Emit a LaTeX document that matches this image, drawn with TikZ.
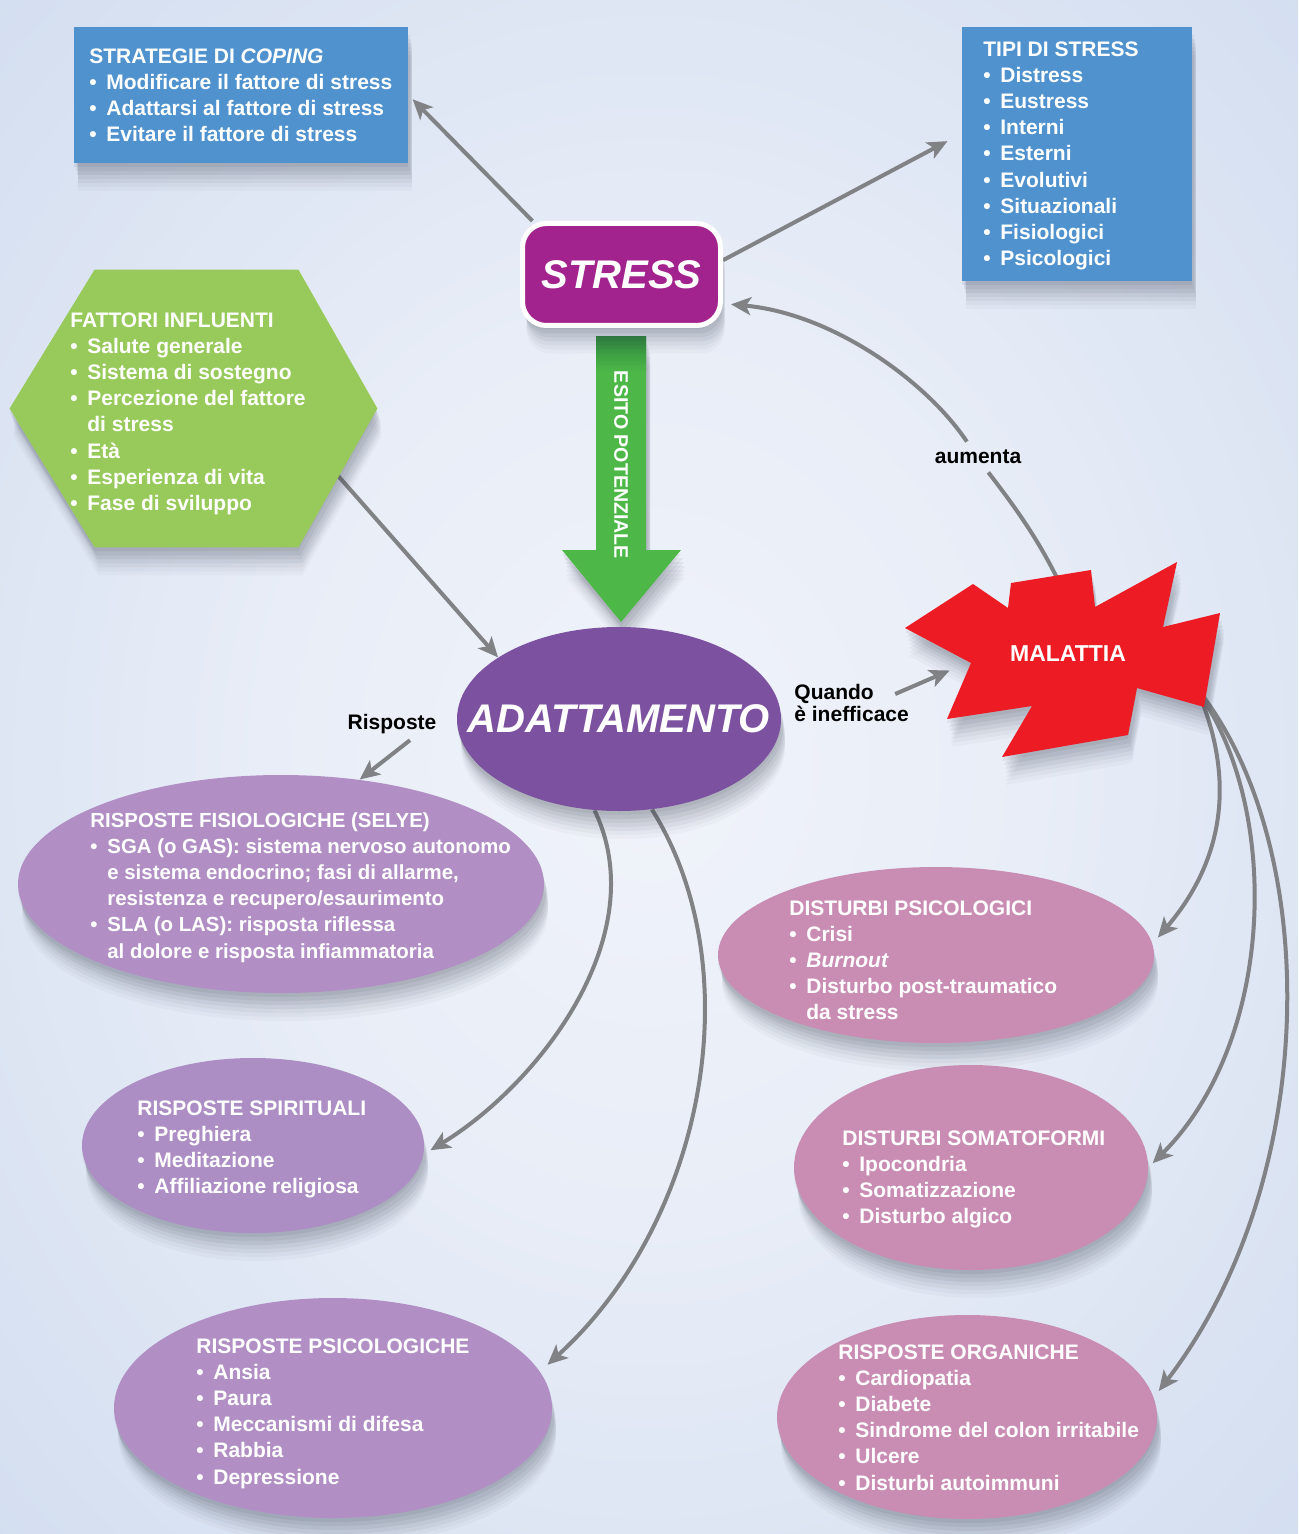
\documentclass[tikz,border=0pt]{standalone}
\usepackage{fontspec}
\setmainfont{Liberation Sans}
\usetikzlibrary{shapes.geometric,arrows.meta,calc,shadows}
\definecolor{boxblue}{HTML}{4F92CE}
\definecolor{stressc}{HTML}{A3238E}
\definecolor{agreen}{HTML}{4DB848}
\definecolor{dgreen}{HTML}{2E8A3E}
\definecolor{hexgreen}{HTML}{97CA5B}
\definecolor{adatc}{HTML}{7C51A0}
\definecolor{malred}{HTML}{ED1C24}
\definecolor{lpurp}{HTML}{B18FC4}
\definecolor{lpurpb}{HTML}{AC8DC4}
\definecolor{pinkc}{HTML}{C98DB4}
\definecolor{cgray}{HTML}{808285}
\definecolor{shc}{HTML}{3A4050}
\definecolor{bga}{HTML}{F0F3FA}
\definecolor{bgb}{HTML}{E8EDF7}
\definecolor{bgc}{HTML}{D6E0F1}
\definecolor{bgd}{HTML}{C8D6ED}
\definecolor{bge}{HTML}{C0D0EA}
\pgfdeclareradialshading{bgshade}{\pgfpoint{0bp}{0bp}}{color(0bp)=(bga); color(15bp)=(bgb); color(33bp)=(bgc); color(48bp)=(bgd); color(71bp)=(bge)}
\pgfdeclarelayer{bglayer}
\pgfdeclarelayer{connlayer}
\pgfsetlayers{bglayer,connlayer,main}
\newcommand\bul{\makebox[8.5pt][l]{\textbullet}}
\newcommand\ind{\hspace*{8.5pt}}
\begin{document}
\begin{tikzpicture}[x=0.5pt,y=-0.5pt,
  conn/.style={draw=cgray, line width=2pt, -{Stealth[length=10pt,width=9pt,inset=2.5pt]}},
  plain/.style={draw=cgray, line width=2pt},
  shad/.style={
    general shadow={fill=shc, fill opacity=.08, shadow xshift=0pt, shadow yshift=-2pt},
    general shadow={fill=shc, fill opacity=.08, shadow xshift=1pt, shadow yshift=-4pt},
    general shadow={fill=shc, fill opacity=.07, shadow xshift=1.5pt, shadow yshift=-6pt},
    general shadow={fill=shc, fill opacity=.06, shadow xshift=2pt, shadow yshift=-8pt},
    general shadow={fill=shc, fill opacity=.05, shadow xshift=2pt, shadow yshift=-10pt},
    general shadow={fill=shc, fill opacity=.04, shadow xshift=2pt, shadow yshift=-12pt},
    general shadow={fill=shc, fill opacity=.03, shadow xshift=2pt, shadow yshift=-14pt}},
  txt/.style={font=\fontsize{10.5}{13.1}\selectfont\bfseries, text=white, align=left, inner sep=0pt, anchor=north west},
  lbl/.style={font=\fontsize{10.5}{11}\selectfont\bfseries, text=black, inner sep=2pt},
  bluebox/.style={rectangle, fill=boxblue, inner sep=0pt, shad},
  ell/.style={ellipse, inner sep=0pt, shad},
  ghost/.style={rectangle, inner sep=0pt, draw=none}
]
\begin{pgfonlayer}{bglayer}
\shade[shading=bgshade] (0,0) rectangle (1298,1534);
\end{pgfonlayer}
\useasboundingbox (0,0) rectangle (1298,1534);

% boxes
\node[bluebox, minimum width=167pt, minimum height=68pt] (strat) at (241,95) {};
\node[bluebox, minimum width=115pt, minimum height=127pt] (tipi) at (1077,154) {};
\node[ghost, minimum width=183.5pt, minimum height=138.5pt] (fat) at (193.5,408.5) {};
\fill[hexgreen, shad] (fat.west) -- ($(fat.north west)+(85,0)$) -- ($(fat.north east)+(-79,0)$) -- (fat.east) -- ($(fat.south east)+(-79,0)$) -- ($(fat.south west)+(85,0)$) -- cycle;

% green arrow
\fill[agreen, shad] (596,337) -- (646,337) -- (646,550) -- (681,550) -- (621,622) -- (562,550) -- (596,550) -- cycle;
\shade[top color=dgreen, bottom color=agreen] (596,337) rectangle (646,372);
\node[rotate=-90, font=\fontsize{9.8}{10}\selectfont\bfseries, text=white, inner sep=0pt] (esito) at (621,465) {ESITO POTENZIALE};

\node[draw=white, line width=2.5pt, fill=stressc, rounded corners=12pt, minimum width=99pt, minimum height=51pt, shad, inner sep=0pt, font=\fontsize{20}{20}\selectfont\bfseries\itshape, text=white] (stress) at (621.5,274.5) {STRESS};

\node[ell, fill=adatc, minimum width=162pt, minimum height=92pt,
  label={[font=\fontsize{20}{20}\selectfont\bfseries\itshape, text=white, inner sep=0pt]center:ADATTAMENTO}] (adat) at (619,719) {};

% malattia
\node[ghost, minimum width=157.5pt, minimum height=97.5pt] (mal) at (1062.5,659.5) {};
\fill[malred, shad] (905,628) -- (973,584) -- (1008,608) -- (1011,583) -- (1091,570) -- (1095,607) -- (1177,562) -- (1163,627) -- (1220,613) -- (1204,707) -- (1137,688) -- (1128,735) -- (1002,757) -- (1032,706) -- (947,719) -- (971,663) -- cycle;
\node[font=\fontsize{11.5}{12}\selectfont\bfseries, text=white, inner sep=0pt] (maltxt) at (1068,654) {MALATTIA};

% ellipses
\node[ell, fill=lpurp, minimum width=263pt, minimum height=109pt] (fis) at (281,884) {};
\node[ell, fill=lpurpb, minimum width=171pt, minimum height=87.5pt] (spir) at (253,1145.5) {};
\node[ell, fill=lpurp, minimum width=219pt, minimum height=110pt] (psi) at (333,1408) {};
\node[ell, fill=pinkc, minimum width=218pt, minimum height=88pt] (dpsi) at (936,955) {};
\node[ell, fill=pinkc, minimum width=177pt, minimum height=102.5pt] (som) at (971,1167.5) {};
\node[ell, fill=pinkc, minimum width=190pt, minimum height=102pt] (org) at (967,1417) {};

% texts
\node[txt] (tstrat) at (89,48) {STRATEGIE DI \textit{COPING}\\
\bul Modificare il fattore di stress\\
\bul Adattarsi al fattore di stress\\
\bul Evitare il fattore di stress};
\node[txt] (ttipi) at (983,41) {TIPI DI STRESS\\
\bul Distress\\ \bul Eustress\\ \bul Interni\\ \bul Esterni\\ \bul Evolutivi\\ \bul Situazionali\\ \bul Fisiologici\\ \bul Psicologici};
\node[txt] (tfat) at (70,312) {FATTORI INFLUENTI\\
\bul Salute generale\\ \bul Sistema di sostegno\\ \bul Percezione del fattore\\ \ind di stress\\ \bul Età\\ \bul Esperienza di vita\\ \bul Fase di sviluppo};
\node[txt, font=\fontsize{10.2}{13.1}\selectfont\bfseries] (tfis) at (90,812) {RISPOSTE FISIOLOGICHE (SELYE)\\
\bul SGA (o GAS): sistema nervoso autonomo\\
\ind e sistema endocrino; fasi di allarme,\\
\ind resistenza e recupero/esaurimento\\
\bul SLA (o LAS): risposta riflessa\\
\ind al dolore e risposta infiammatoria};
\node[txt] (tspir) at (137,1100) {RISPOSTE SPIRITUALI\\
\bul Preghiera\\ \bul Meditazione\\ \bul Affiliazione religiosa};
\node[txt] (tpsi) at (196,1338) {RISPOSTE PSICOLOGICHE\\
\bul Ansia\\ \bul Paura\\ \bul Meccanismi di difesa\\ \bul Rabbia\\ \bul Depressione};
\node[txt] (tdpsi) at (789,900) {DISTURBI PSICOLOGICI\\
\bul Crisi\\ \bul \textit{Burnout}\\ \bul Disturbo post-traumatico\\ \ind da stress};
\node[txt] (tsom) at (842,1130) {DISTURBI SOMATOFORMI\\
\bul Ipocondria\\ \bul Somatizzazione\\ \bul Disturbo algico};
\node[txt] (torg) at (838,1344) {RISPOSTE ORGANICHE\\
\bul Cardiopatia\\ \bul Diabete\\ \bul Sindrome del colon irritabile\\ \bul Ulcere\\ \bul Disturbi autoimmuni};

% labels
\node[lbl] (risp) at (392,724) {Risposte};
\node[lbl, inner sep=4pt] (aum) at (978,457) {aumenta};
\node[lbl, align=left, anchor=west] (quando) at (790,703) {Quando\\è inefficace};

% connectors
\begin{pgfonlayer}{connlayer}
\draw[conn, shorten >=3pt] (stress.149) -- (strat.east);
\draw[conn, shorten >=8pt] (stress.8) -- (tipi.170);
\draw[plain] ($(mal.north)+(0,28)$) .. controls +(-25,-55) and +(15,20) .. (aum.-56);
\draw[conn, shorten >=4pt] (aum.126) .. controls +(-40,-60) and +(110,10) .. (stress.-16);
\draw[conn] ($(fat.east)+(-44,62)$) -- (adat.153);
\draw[conn] ($(quando.east)+(-18,-9)$) -- ($(mal.west)+(45,11)$);
\draw[conn] ($(risp.south)+(18,2)$) -- (fis.53);
\draw[conn, shorten >=4pt] (adat.-105) .. controls +(60,125) and +(115,-70) .. (spir.-3);
\draw[conn, shorten >=5pt] (adat.-70) .. controls +(100,160) and +(165,-150) .. (psi.10);
\draw[conn, shorten >=4pt] ($(mal.center)+(138,38)$) .. controls +(40,100) and +(60,-70) .. (dpsi.3);
\draw[conn, shorten >=3pt] ($(mal.center)+(139,37)$) .. controls +(80,120) and +(125,-125) .. (som.east);
\draw[conn, shorten >=4pt] ($(mal.center)+(140,36)$) .. controls +(120,160) and +(165,-215) .. (org.6);
\end{pgfonlayer}
\end{tikzpicture}
\end{document}
